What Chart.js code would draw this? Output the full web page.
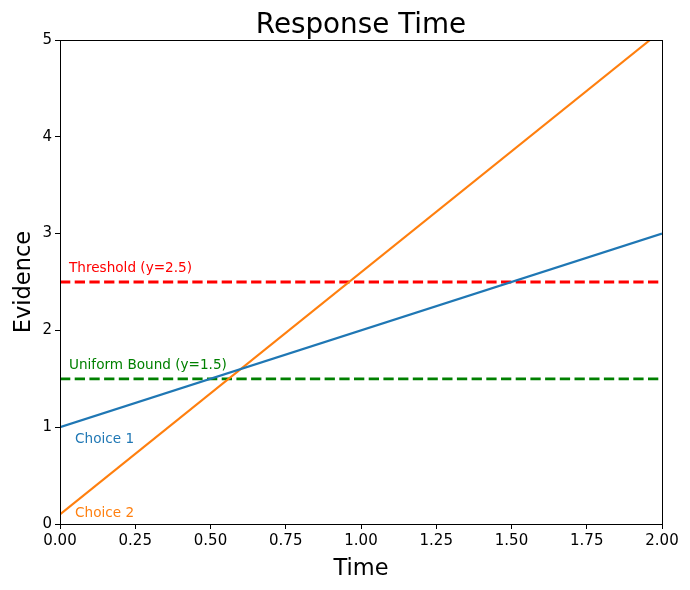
<!DOCTYPE html>
<html>
<head>
<meta charset="utf-8">
<script src="https://cdn.jsdelivr.net/npm/chart.js@4"></script>
<style>
  html, body { margin: 0; padding: 0; background: #fff; }
  #chart { display: block; }
</style>
</head>
<body>
<canvas id="chart" width="690" height="590"></canvas>
<script>
// data
const timePoints = [0, 2];
const choice1 = [1, 3];
const choice2 = [0.1, 5.1];
const thresholdLevel = 2.5;
const boundLevel = 1.5;

const textLabels = ['Threshold (y=2.5)', 'Uniform Bound (y=1.5)', 'Choice 1', 'Choice 2'];
const textX = [0.03, 0.03, 0.05, 0.05];
const textY = [2.6, 1.6, 0.84, 0.07];
const textColors = ['#ff0000', '#008000', '#1f77b4', '#ff7f0e'];

const FONT = "'DejaVu Sans', sans-serif";

function toPoints(ys) {
    return timePoints.map((t, i) => ({ x: t, y: ys[i] }));
}

const frame = {
    id: 'frame',
    afterDatasetsDraw(chart) {
        const { ctx, chartArea: a, scales } = chart;
        ctx.save();
        ctx.font = '13.6px ' + FONT;
        ctx.textAlign = 'left';
        ctx.textBaseline = 'alphabetic';
        textLabels.forEach((txt, i) => {
            ctx.fillStyle = textColors[i];
            ctx.fillText(txt, scales.x.getPixelForValue(textX[i]), scales.y.getPixelForValue(textY[i]));
        });
        ctx.strokeStyle = '#000';
        ctx.lineWidth = 1;
        ctx.strokeRect(Math.round(a.left) + 0.5, Math.round(a.top) + 0.5,
                       Math.round(a.right - a.left), Math.round(a.bottom - a.top));
        // title centred over the plot area
        ctx.fillStyle = '#000';
        ctx.font = '27.8px ' + FONT;
        ctx.textAlign = 'center';
        ctx.fillText('Response Time', (a.left + a.right) / 2, 32.5);
        ctx.restore();
    }
};

new Chart(document.getElementById('chart'), {
    type: 'line',
    data: {
        datasets: [{
            label: 'Choice 1',
            data: toPoints(choice1),
            borderColor: '#1f77b4',
            borderWidth: 2.1
        }, {
            label: 'Choice 2',
            data: toPoints(choice2),
            borderColor: '#ff7f0e',
            borderWidth: 2.1
        }, {
            label: 'Threshold',
            data: toPoints(timePoints.map(() => thresholdLevel)),
            borderColor: '#ff0000',
            borderWidth: 2.8,
            borderDash: [10.3, 4.4]
        }, {
            label: 'Uniform Bound',
            data: toPoints(timePoints.map(() => boundLevel)),
            borderColor: '#008000',
            borderWidth: 2.8,
            borderDash: [10.3, 4.4]
        }]
    },
    options: {
        responsive: false,
        animation: false,
        elements: {
            point: { radius: 0 },
            line: { tension: 0, fill: false }
        },
        layout: { padding: { top: 40, right: 28, bottom: 0, left: 0 } },
        plugins: {
            legend: { display: false },
            tooltip: { enabled: false },
            title: { display: false }
        },
        scales: {
            x: {
                type: 'linear',
                min: 0,
                max: 2,
                afterFit(scale) { scale.height = 66; },
                ticks: {
                    stepSize: 0.25,
                    color: '#000',
                    font: { family: FONT, size: 15 },
                    padding: 3,
                    maxRotation: 0,
                    callback: v => v.toFixed(2)
                },
                grid: { drawOnChartArea: false, tickLength: 5, color: '#000' },
                border: { display: true, color: '#000' },
                title: {
                    display: true,
                    text: 'Time',
                    color: '#000',
                    font: { family: FONT, size: 22.5 },
                    padding: { top: 0, bottom: 7 }
                }
            },
            y: {
                type: 'linear',
                min: 0,
                max: 5,
                afterFit(scale) { scale.width = 60; },
                ticks: {
                    stepSize: 1,
                    color: '#000',
                    font: { family: FONT, size: 15 },
                    padding: 3
                },
                grid: { drawOnChartArea: false, tickLength: 5, color: '#000' },
                border: { display: true, color: '#000' },
                title: {
                    display: true,
                    text: 'Evidence',
                    color: '#000',
                    font: { family: FONT, size: 22.5 },
                    padding: { top: 11, bottom: 0 }
                }
            }
        }
    },
    plugins: [frame]
});
</script>
</body>
</html>
